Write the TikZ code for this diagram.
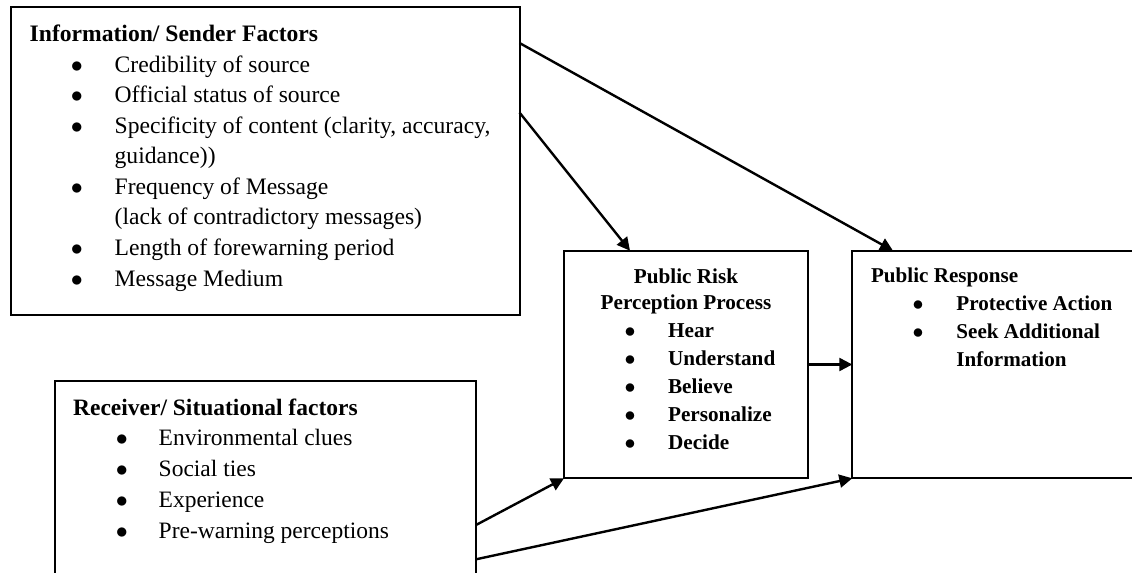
\documentclass[tikz,border=0pt]{standalone}
\usepackage{fontspec}
\setmainfont{Liberation Serif}
\usetikzlibrary{arrows.meta,fit}

% bullet at #1 from the line start, text #2 further on
\newcommand{\itm}[3]{\hspace*{#1}\makebox[0pt]{$\bullet$}\hspace*{#2}#3}

\begin{document}
\begin{tikzpicture}[x=0.5pt,y=-0.5pt,
		>={Triangle[length=6.5pt,width=6.5pt]},
		box/.style={draw,line width=1pt,inner sep=0pt,outer sep=0pt},
		txt/.style={anchor=base west,align=left,inner sep=0pt},
		link/.style={->,line width=1.2pt}]
			\clip (0,0) rectangle (1132,573);
			% the four boxes
			\node[box,fit={(10.7,6.7) (519.5,315)}] (info) {};
			\node[box,fit={(55,380.7) (476,600)}] (recv) {};
			\node[box,fit={(564,250.7) (808.3,478.3)}] (risk) {};
			\node[box,fit={(852.3,250.7) (1160,478.3)}] (resp) {};
			% texts, placed by the baseline of their last line
			\node[txt,font=\fontsize{11.8}{15.27}\selectfont] (infotext) at (29.3,286) {%
				\textbf{Information/ Sender Factors}\\
				\itm{23.6pt}{18.9pt}{Credibility of source}\\
				\itm{23.6pt}{18.9pt}{Official status of source}\\
				\itm{23.6pt}{18.9pt}{Specificity of content (clarity, accuracy,}\\
				\hspace*{42.5pt}guidance))\\
				\itm{23.6pt}{18.9pt}{Frequency of Message}\\
				\hspace*{42.5pt}(lack of contradictory messages)\\
				\itm{23.6pt}{18.9pt}{Length of forewarning period}\\
				\itm{23.6pt}{18.9pt}{Message Medium}};
			\node[txt,font=\fontsize{11.75}{15.4}\selectfont] (recvtext) at (72.7,538.3) {%
				\textbf{Receiver/ Situational factors}\\
				\itm{24.4pt}{18.4pt}{Environmental clues}\\
				\itm{24.4pt}{18.4pt}{Social ties}\\
				\itm{24.4pt}{18.4pt}{Experience}\\
				\itm{24.4pt}{18.4pt}{Pre-warning perceptions}};
			\node[anchor=base,align=center,inner sep=0pt,font=\fontsize{10.6}{13}\selectfont\bfseries] (risktitle) at (686,309.3) {Public Risk\\Perception Process};
			\node[txt,font=\fontsize{10.6}{14}\selectfont\bfseries] (risklist) at (629.7,449.3) {%
				\itm{0pt}{19pt}{Hear}\\
				\itm{0pt}{19pt}{Understand}\\
				\itm{0pt}{19pt}{Believe}\\
				\itm{0pt}{19pt}{Personalize}\\
				\itm{0pt}{19pt}{Decide}};
			\node[txt,font=\fontsize{10.55}{13.9}\selectfont\bfseries] (resptext) at (870.7,366) {%
				Public Response\\
				\itm{23.55pt}{19.1pt}{Protective Action}\\
				\itm{23.55pt}{19.1pt}{Seek Additional}\\
				\hspace*{42.65pt}Information};
			% arrows
			\draw[link] (info.east |- 0,43) -- (893,0 |- resp.north);
			\draw[link] (info.east |- 0,112.5) -- (630,0 |- risk.north);
			\draw[link] (risk.east) -- (resp.west |- risk.east);
			\draw[link] (recv.east |- 0,525) -- (risk.south west);
			\draw[link] (recv.east |- 0,559.3) -- (resp.south west);
		\end{tikzpicture}
\end{document}
